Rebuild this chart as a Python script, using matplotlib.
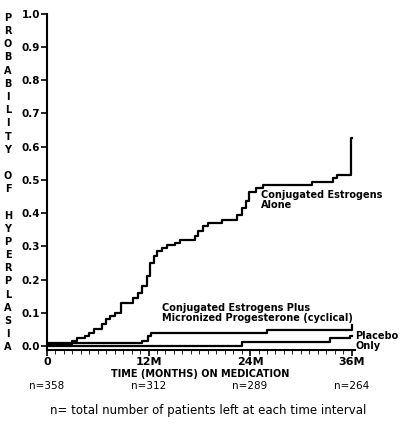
import matplotlib
matplotlib.use("Agg")
import matplotlib.pyplot as plt

ce_x = [0, 3, 3.5, 4.5, 5, 5.5, 6.5, 7, 7.5, 8, 8.7, 10.2, 10.8, 11.2, 11.8, 12.2, 12.6, 13.0, 13.6, 14.2, 15.1, 15.7, 17.5, 17.8, 18.4, 19.0, 20.7, 22.5, 23.0, 23.5, 23.9, 24.7, 25.5, 31.3, 33.8, 34.3, 35.9, 36]
ce_y = [0.003, 0.015, 0.025, 0.03, 0.04, 0.05, 0.065, 0.08, 0.09, 0.10, 0.13, 0.145, 0.16, 0.18, 0.21, 0.25, 0.27, 0.285, 0.295, 0.305, 0.31, 0.32, 0.33, 0.345, 0.36, 0.37, 0.38, 0.395, 0.415, 0.435, 0.465, 0.475, 0.485, 0.495, 0.505, 0.515, 0.625, 0.625]
cp_x = [0, 11.2, 11.9, 12.3, 26.0, 36, 36]
cp_y = [0.01, 0.015, 0.03, 0.04, 0.047, 0.062, 0.062]
pl_x = [0, 23.0, 33.5, 35.8, 36]
pl_y = [0.0, 0.012, 0.025, 0.03, 0.03]
xticks = [0, 12, 24, 36]
xtick_labels = ["0", "12M", "24M", "36M"]
n_labels = ["n=358", "n=312", "n=289", "n=264"]
yticks = [0.0, 0.1, 0.2, 0.3, 0.4, 0.5, 0.6, 0.7, 0.8, 0.9, 1.0]

fig = plt.figure(figsize=(4, 4.32), dpi=100)
ax = fig.add_axes([0.1175, 0.19, 0.77, 0.778])
for xs, ys in [(ce_x, ce_y), (cp_x, cp_y), (pl_x, pl_y)]:
    ax.step(xs, ys, where="post", color="black", lw=1.6)
ax.set_xlim(0, 36.4)
ax.set_ylim(-0.012, 1.0)
for s in ["top", "right"]:
    ax.spines[s].set_visible(False)
ax.spines["left"].set_linewidth(1.5)
ax.spines["bottom"].set_linewidth(1.5)
ax.set_yticks(yticks)
ax.set_yticklabels([f"{v:.1f}" for v in yticks], fontsize=7.5, fontweight="bold")
ax.set_xticks(xticks)
ax.set_xticklabels(xtick_labels, fontsize=8, fontweight="bold")
ax.set_xticks(range(0, 37), minor=True)
ax.tick_params(axis="x", which="minor", length=3)
ax.tick_params(length=4, width=1.2, pad=1)
for x, n in zip(xticks, n_labels):
    ax.text(x, -0.12, n, ha="center", va="center", fontsize=7.5, clip_on=False)
fig.text(0.5, 0.134, "TIME (MONTHS) ON MEDICATION", ha="center", va="center", fontsize=7, fontweight="bold")
fig.text(0.52, 0.05, "n= total number of patients left at each time interval", ha="center", va="center", fontsize=8.5)
ylab = "PROBABILITY OF HYPERPLASIA"
for i, ch in enumerate(ylab):
    fig.text(0.02, 0.97 - i * 0.0305, ch, ha="center", va="top", fontsize=7, fontweight="bold")
ax.text(25.3, 0.47, "Conjugated Estrogens\nAlone", ha="left", va="top", fontsize=7, fontweight="bold", linespacing=1.0)
ax.text(13.6, 0.07, "Conjugated Estrogens Plus\nMicronized Progesterone (cyclical)", ha="left", va="bottom", fontsize=7, fontweight="bold", linespacing=1.0)
ax.text(36.4, 0.015, "Placebo\nOnly", ha="left", va="center", fontsize=7, fontweight="bold", linespacing=1.1, clip_on=False)
fig.savefig("out.png", dpi=100)
